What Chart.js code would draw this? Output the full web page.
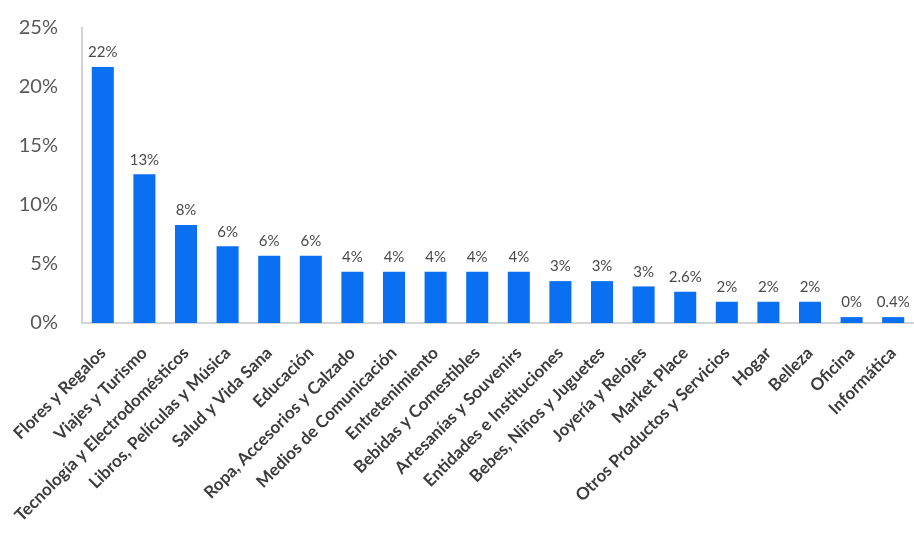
<!DOCTYPE html>
<html>
<head>
<meta charset="utf-8">
<script src="https://cdn.jsdelivr.net/npm/chart.js@4/dist/chart.umd.min.js"></script>
<style>
  html, body { margin: 0; padding: 0; background: #fff; }
  #wrap { width: 914px; height: 537px; }
</style>
</head>
<body>
<div id="wrap"><canvas id="chart" width="914" height="537"></canvas></div>
<script>
const categories = [
  'Flores y Regalos',
  'Viajes y Turismo',
  'Tecnología y Electrodomésticos',
  'Libros, Películas y Música',
  'Salud y Vida Sana',
  'Educación',
  'Ropa, Accesorios y Calzado',
  'Medios de Comunicación',
  'Entretenimiento',
  'Bebidas y Comestibles',
  'Artesanías y Souvenirs',
  'Entidades e Instituciones',
  'Bebes, Niños y Juguetes',
  'Joyería y Relojes',
  'Market Place',
  'Otros Productos y Servicios',
  'Hogar',
  'Belleza',
  'Oficina',
  'Informática',
];
const shares = [21.7, 12.6, 8.3, 6.5, 5.7, 5.7, 4.35, 4.35, 4.35, 4.35, 4.35,
  3.55, 3.55, 3.1, 2.65, 1.8, 1.8, 1.8, 0.5, 0.5];
const shareLabels = ['22%', '13%', '8%', '6%', '6%', '6%', '4%', '4%', '4%', '4%',
  '4%', '3%', '3%', '3%', '2.6%', '2%', '2%', '2%', '0%', '0.4%'];
const yTicks = [0, 5, 10, 15, 20, 25];

const FONT = 'Lato, "Open Sans", sans-serif';
const BLUE = '#0b6ff2';

// value labels above each bar
const barLabels = {
  id: 'barLabels',
  afterDatasetsDraw(chart) {
    const ctx = chart.ctx;
    const meta = chart.getDatasetMeta(0);
    ctx.save();
    ctx.font = '15px ' + FONT;
    ctx.fillStyle = '#4a4a4a';
    ctx.textAlign = 'center';
    ctx.textBaseline = 'bottom';
    meta.data.forEach((bar, i) => {
      ctx.fillText(shareLabels[i], bar.x, bar.y - 7);
    });
    ctx.restore();
  },
};

new Chart(document.getElementById('chart'), {
  type: 'bar',
  data: {
    labels: categories,
    datasets: [{
      data: shares,
      backgroundColor: BLUE,
      borderWidth: 0,
      barPercentage: 0.53,
      categoryPercentage: 1,
    }],
  },
  options: {
    responsive: false,
    animation: false,
    devicePixelRatio: 1,
    layout: {padding: {left: 15, top: 28, right: 0, bottom: 0}},
    plugins: {
      legend: {display: false},
      tooltip: {enabled: false},
    },
    scales: {
      x: {
        grid: {display: false, drawTicks: false},
        border: {display: true, color: '#d4d4d4', width: 2},
        ticks: {
          autoSkip: false,
          minRotation: 45,
          maxRotation: 45,
          padding: 20,
          color: '#3c3c3c',
          font: {family: FONT, size: 17, weight: 'bold'},
        },
        afterFit(scale) {
          scale.height = 214;
          scale.paddingLeft = 0;
          scale.paddingRight = 0;
        },
      },
      y: {
        min: 0,
        max: 25,
        grid: {display: false, drawTicks: false},
        border: {display: true, color: '#d4d4d4', width: 2},
        afterBuildTicks(scale) {
          scale.ticks = yTicks.map((v) => ({value: v}));
        },
        ticks: {
          padding: 24,
          color: '#595959',
          font: {family: FONT, size: 20},
          callback: (v) => v + '%',
        },
        afterFit(scale) {
          scale.width = 67;
          // keep the tick padding from pushing the plot down
          scale.paddingTop = 0;
          scale.paddingBottom = 0;
        },
      },
    },
  },
  plugins: [barLabels],
});
</script>
</body>
</html>
